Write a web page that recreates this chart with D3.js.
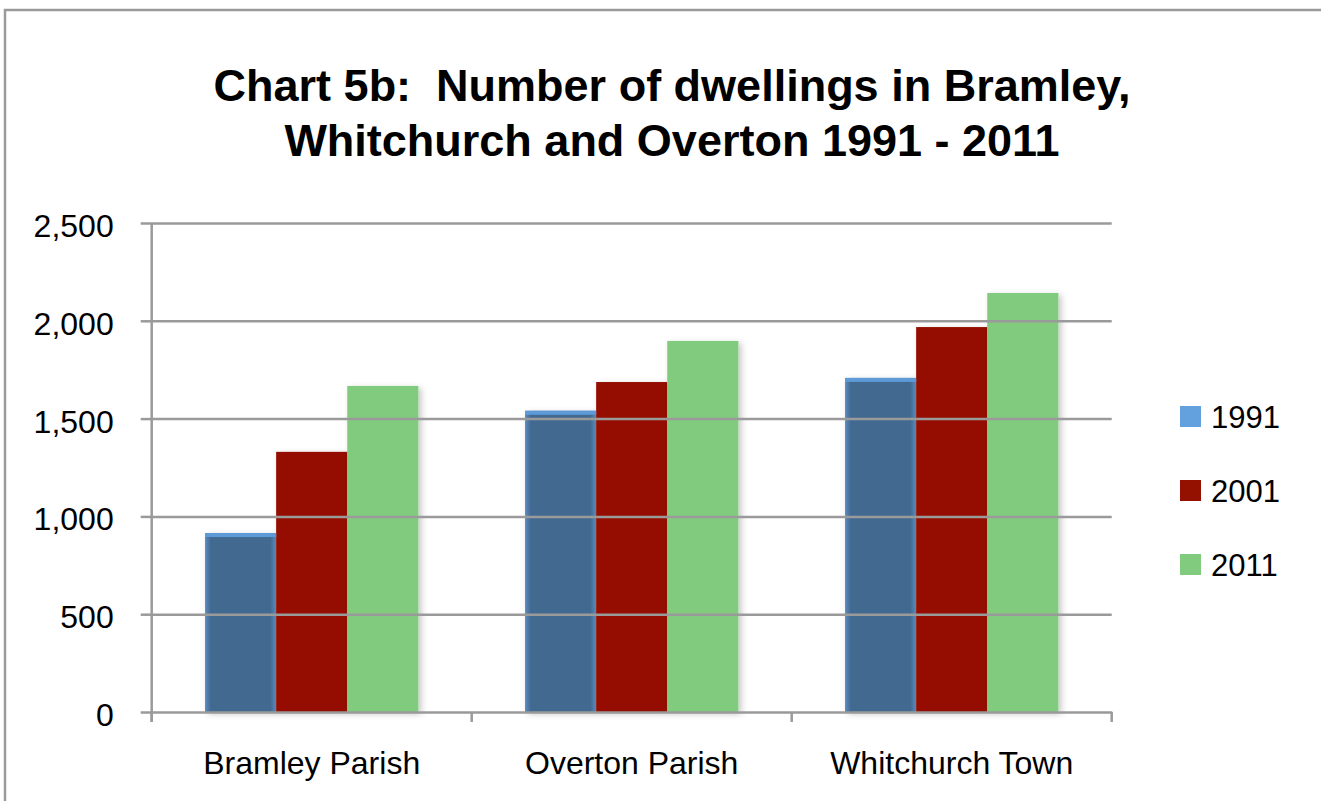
<!DOCTYPE html>
<html>
<head>
<meta charset="utf-8">
<script src="https://cdn.jsdelivr.net/npm/d3@7"></script>
<style>
  body { margin: 0; background: #fff; }
  text { font-family: "Liberation Sans", Arial, sans-serif; fill: #000; }
</style>
</head>
<body>
<svg id="chart" width="1321" height="801"></svg>
<script>
// chart data
var categories = ["Bramley Parish", "Overton Parish", "Whitchurch Town"];
var years = ["1991", "2001", "2011"];
var dwellings1991 = [915, 1540, 1708];
var dwellings2001 = [1330, 1687, 1968];
var dwellings2011 = [1667, 1897, 2142];
var yTicks = [0, 500, 1000, 1500, 2000, 2500];
var titleLines = ["Chart 5b:  Number of dwellings in Bramley,", "Whitchurch and Overton 1991 - 2011"];

var seriesValues = [dwellings1991, dwellings2001, dwellings2011];
var colors = { "1991": "#436a91", "2001": "#941100", "2011": "#80cb7e" };
var legendColors = { "1991": "#62a0de", "2001": "#941100", "2011": "#80cb7e" };

var rows = [];
categories.forEach(function(c, i) {
  years.forEach(function(yr, j) {
    rows.push({ cat: c, year: yr, value: seriesValues[j][i] });
  });
});

var plotLeft = 151.7, plotRight = 1111.7, plotTop = 223, plotBottom = 712;
var gridColor = "#9a9a9a";

var svg = d3.select("#chart");

// defs: shadow + bevel for blue bars
var defs = svg.append("defs");
var f = defs.append("filter").attr("id", "shadow").attr("x", "-20%").attr("y", "-10%").attr("width", "140%").attr("height", "120%");
f.append("feDropShadow").attr("dx", 3).attr("dy", 2).attr("stdDeviation", 3).attr("flood-color", "#000").attr("flood-opacity", 0.22);
var g1 = defs.append("linearGradient").attr("id", "blueGrad").attr("x1", 0).attr("x2", 1).attr("y1", 0).attr("y2", 0);
g1.append("stop").attr("offset", "0%").attr("stop-color", "#5a8cc2");
g1.append("stop").attr("offset", "8%").attr("stop-color", "#436a91");
g1.append("stop").attr("offset", "92%").attr("stop-color", "#436a91");
g1.append("stop").attr("offset", "100%").attr("stop-color", "#5a8cc2");

// outer frame, runs off the right/bottom edge
svg.append("rect").attr("x", 5).attr("y", 10).attr("width", 1400).attr("height", 900)
  .attr("fill", "none").attr("stroke", gridColor).attr("stroke-width", 2.5);

// title
svg.append("g").selectAll("text").data(titleLines).enter().append("text")
  .attr("x", 672).attr("y", function(d, i) { return 101 + i * 55; })
  .attr("text-anchor", "middle")
  .style("white-space", "pre")
  .style("font-size", "45px").style("font-weight", "bold")
  .text(function(d) { return d; });

var x0 = d3.scaleBand().domain(categories).range([plotLeft, plotRight]).padding(0);
var bw = x0.bandwidth() / 4.5;
var x1 = d3.scaleBand().domain(years).range([bw * 0.75, bw * 3.75]).padding(0);
var y = d3.scaleLinear().domain([0, 2500]).range([plotBottom, plotTop]);

// bars
var bars = svg.append("g");
bars.selectAll("rect.bar").data(rows).enter().append("rect")
  .attr("class", "bar")
  .attr("x", function(d) { return x0(d.cat) + x1(d.year); })
  .attr("y", function(d) { return y(d.value); })
  .attr("width", x1.bandwidth())
  .attr("height", function(d) { return plotBottom - y(d.value); })
  .attr("fill", function(d) { return d.year == "1991" ? "url(#blueGrad)" : colors[d.year]; })
  .attr("filter", "url(#shadow)");
// light top edge on the 1991 bars
bars.selectAll("rect.cap").data(rows.filter(function(d) { return d.year == "1991"; })).enter().append("rect")
  .attr("class", "cap")
  .attr("x", function(d) { return x0(d.cat) + x1(d.year); })
  .attr("y", function(d) { return y(d.value); })
  .attr("width", x1.bandwidth())
  .attr("height", 4)
  .attr("fill", "#5f9ad8");

// gridlines on top of bars
svg.append("g")
  .attr("transform", "translate(" + plotLeft + ",0)")
  .call(d3.axisLeft(y).tickValues(yTicks.slice(1)).tickSize(-(plotRight - plotLeft)).tickFormat(""))
  .call(function(g) { g.select(".domain").remove(); })
  .selectAll("line").attr("stroke", gridColor).attr("stroke-width", 2.5);

// y axis
var yAxis = svg.append("g")
  .attr("transform", "translate(" + plotLeft + ",0)")
  .call(d3.axisLeft(y).tickValues(yTicks).tickSize(11).tickPadding(27).tickFormat(d3.format(",")));
yAxis.select(".domain").attr("stroke", gridColor).attr("stroke-width", 2.5).attr("d", "M0," + plotTop + "V" + (plotBottom + 10));
yAxis.selectAll("line").attr("stroke", gridColor).attr("stroke-width", 2.5);
yAxis.selectAll("text").style("font-size", "32px").attr("dy", "0.42em");

// x axis
var xAxis = svg.append("g")
  .attr("transform", "translate(0," + plotBottom + ")")
  .call(d3.axisBottom(x0).tickSize(0).tickPadding(39));
xAxis.select(".domain").attr("stroke", gridColor).attr("stroke-width", 2.5);
xAxis.selectAll("text").style("font-size", "32px");
var bounds = categories.map(function(c) { return x0(c); }).concat([x0(categories[categories.length - 1]) + x0.bandwidth()]);
xAxis.selectAll("line.bound").data(bounds).enter().append("line")
  .attr("class", "bound")
  .attr("x1", function(d) { return d; }).attr("x2", function(d) { return d; })
  .attr("y1", 0).attr("y2", 10)
  .attr("stroke", gridColor).attr("stroke-width", 2.5);

// legend
var legend = svg.append("g").attr("transform", "translate(1180,406)")
  .selectAll("g").data(years).enter().append("g")
  .attr("transform", function(d, i) { return "translate(0," + i * 74 + ")"; });
legend.append("rect").attr("width", 21).attr("height", 21)
  .attr("fill", function(d) { return legendColors[d]; });
legend.append("text").attr("x", 31).attr("y", 10.5).attr("dy", "0.36em")
  .style("font-size", "31px").text(function(d) { return d; });
</script>
</body>
</html>
